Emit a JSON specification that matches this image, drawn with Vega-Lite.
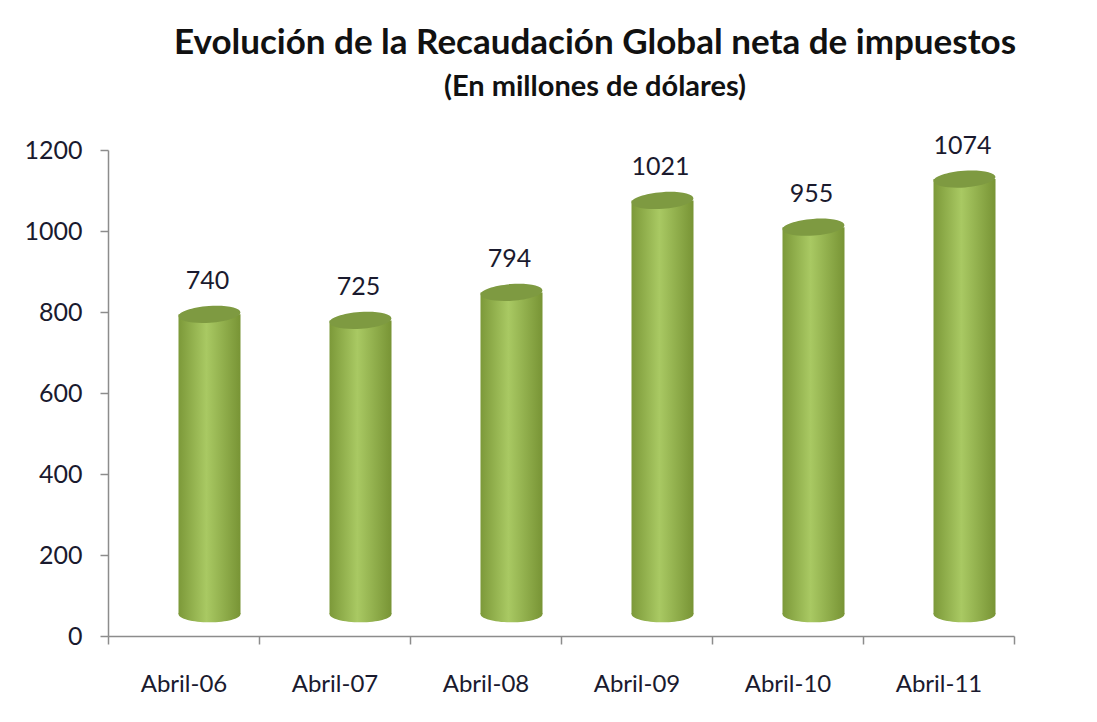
{
  "$schema": "https://vega.github.io/schema/vega-lite/v6.json",
  "autosize": {"type": "none"},
  "padding": {"left": 108, "top": 150, "right": 83, "bottom": 86},
  "width": 906,
  "height": 486,
  "background": "white",
  "config": {"view": {"stroke": null}},
  "title": {
    "text": "Evolución de la Recaudación Global neta de impuestos",
    "subtitle": "(En millones de dólares)",
    "anchor": "middle",
    "dx": 34,
    "offset": 32,
    "font": "Lato",
    "fontSize": 35,
    "fontWeight": "bold",
    "color": "#111111",
    "subtitleFont": "Lato",
    "subtitleFontSize": 29,
    "subtitleFontWeight": "bold",
    "subtitleColor": "#111111",
    "subtitlePadding": 12
  },
  "data": {
    "values": [
      {"periodo": "Abril-06", "valor": 740},
      {"periodo": "Abril-07", "valor": 725},
      {"periodo": "Abril-08", "valor": 794},
      {"periodo": "Abril-09", "valor": 1021},
      {"periodo": "Abril-10", "valor": 955},
      {"periodo": "Abril-11", "valor": 1074}
    ]
  },
  "encoding": {
    "x": {
      "field": "periodo",
      "type": "nominal",
      "sort": null,
      "scale": {"paddingInner": 0, "paddingOuter": 0},
      "axis": {
        "title": null,
        "labelAngle": 0,
        "labelFont": "Lato",
        "labelFontSize": 24,
        "labelColor": "#1a1a2e",
        "labelPadding": 28,
        "tickBand": "extent",
        "tickSize": 8,
        "tickColor": "#8c8c8c",
        "tickWidth": 1.5,
        "domainColor": "#8c8c8c",
        "domainWidth": 1.5
      }
    }
  },
  "layer": [
    {
      "mark": {
        "type": "point",
        "filled": true,
        "shape": "M -1 0 A 1 0.27 0 1 1 1 0 A 1 0.27 0 1 1 -1 0 Z",
        "size": 3844,
        "opacity": 1,
        "strokeWidth": 0,
        "xOffset": 26,
        "yOffset": -22,
        "fill": {
          "gradient": "linear", "x1": 0, "x2": 1, "y1": 0, "y2": 0,
          "stops": [
            {"offset": 0, "color": "#7c9939"},
            {"offset": 0.45, "color": "#a9c963"},
            {"offset": 1, "color": "#789435"}
          ]
        }
      },
      "encoding": {"y": {"datum": 0, "type": "quantitative"}}
    },
    {
      "mark": {
        "type": "bar",
        "width": 62,
        "xOffset": 26,
        "yOffset": -22,
        "y2Offset": -22,
        "color": {
          "gradient": "linear", "x1": 0, "x2": 1, "y1": 0, "y2": 0,
          "stops": [
            {"offset": 0, "color": "#7c9939"},
            {"offset": 0.45, "color": "#a9c963"},
            {"offset": 1, "color": "#789435"}
          ]
        }
      },
      "encoding": {
        "y": {
          "field": "valor",
          "type": "quantitative",
          "scale": {"domain": [0, 1200]},
          "axis": {
            "title": null,
            "values": [0, 200, 400, 600, 800, 1000, 1200],
            "format": "d",
            "grid": false,
            "labelFont": "Lato",
            "labelFontSize": 25,
            "labelColor": "#1a1a2e",
            "labelPadding": 18,
            "tickSize": 8,
            "tickColor": "#8c8c8c",
            "tickWidth": 1.5,
            "domainColor": "#8c8c8c",
            "domainWidth": 1.5
          }
        },
        "y2": {"datum": 0}
      }
    },
    {
      "mark": {
        "type": "point",
        "filled": true,
        "shape": "M -1 0 A 1 0.27 0 1 1 1 0 A 1 0.27 0 1 1 -1 0 Z",
        "size": 3844,
        "opacity": 1,
        "angle": -4,
        "strokeWidth": 0,
        "xOffset": 26,
        "yOffset": -22,
        "fill": "#7e9a41"
      },
      "encoding": {"y": {"field": "valor", "type": "quantitative"}}
    },
    {
      "mark": {
        "type": "text",
        "font": "Lato",
        "fontSize": 25,
        "color": "#1a1a2e",
        "baseline": "alphabetic",
        "xOffset": 24,
        "yOffset": -22,
        "dy": -25
      },
      "encoding": {
        "y": {"field": "valor", "type": "quantitative"},
        "text": {"field": "valor", "type": "quantitative"}
      }
    }
  ]
}
